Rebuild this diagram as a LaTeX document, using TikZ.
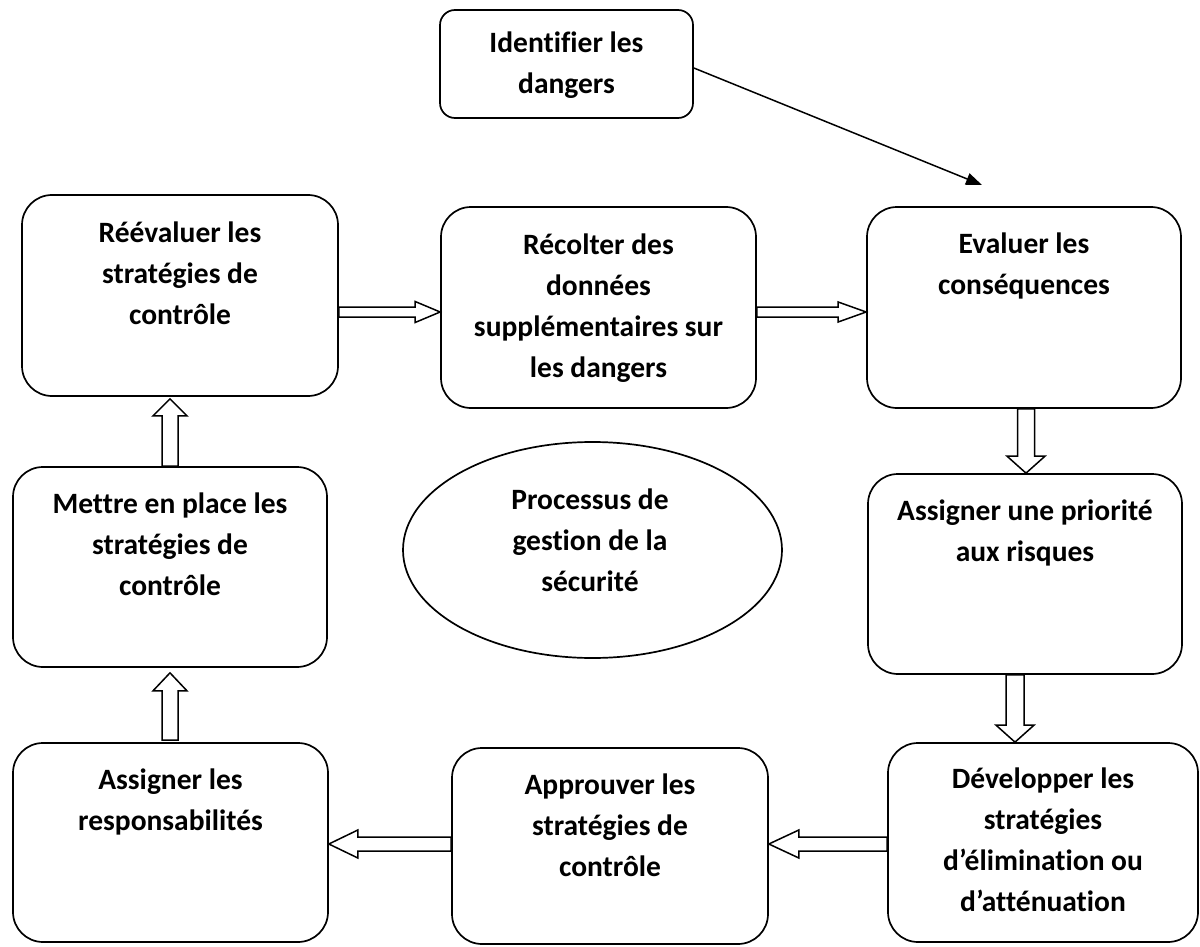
\documentclass[tikz,border=0pt]{standalone}
\usepackage{fontspec}
\setmainfont{Carlito}[Ligatures=NoCommon]
\usetikzlibrary{calc,shapes.geometric,arrows.meta}

% strut that fixes the height of the first text line
\newcommand\firstline{\rule{0pt}{24pt}}

% hollow block arrow: #1 tail, #2 tip, #3 half shaft width, #4 half head width, #5 head length
\newcommand\hollowarrow[5]{%
  \path ($(#2)!#5pt!(#1)$) coordinate (hb);
  \draw[hollow] ($(#1)!#3pt!90:(#2)$) -- ($(hb)!#3pt!-90:(#1)$) -- ($(hb)!#4pt!-90:(#1)$)
    -- (#2) -- ($(hb)!#4pt!90:(#1)$) -- ($(hb)!#3pt!90:(#1)$) -- ($(#1)!#3pt!-90:(#2)$) -- cycle;
}

\begin{document}
\begin{tikzpicture}[x=1pt,y=-1pt,
  box/.style={draw, line width=1.7pt, rounded corners=30pt, inner sep=0pt},
  lbl/.style={anchor=north, inner sep=0pt, align=center,
    font=\fontsize{29.5}{41}\selectfont\bfseries},
  hollow/.style={draw, line width=1.5pt, line join=miter, fill=white},
  thin/.style={line width=1.5pt, -{Triangle[length=16pt,width=12pt]}}]

\useasboundingbox (0,0) rectangle (1200,947);

% process boxes
\node[box, rounded corners=15pt, minimum width=253pt, minimum height=108pt] (ident) at (566.5,64) {};
\node[box, minimum width=316pt, minimum height=201pt] (reeval) at (180,295.5) {};
\node[box, minimum width=315pt, minimum height=201pt] (recolt) at (598.5,307.5) {};
\node[box, minimum width=314pt, minimum height=201pt] (evalu) at (1024,307.5) {};
\node[box, minimum width=314pt, minimum height=200pt] (prio) at (1025,574) {};
\node[box, minimum width=314pt, minimum height=200pt] (mettre) at (170,567) {};
\node[box, minimum width=315pt, minimum height=199pt] (resp) at (170.5,842.5) {};
\node[box, minimum width=316pt, minimum height=196pt] (approuv) at (610,846) {};
\node[box, minimum width=310pt, minimum height=199pt] (develop) at (1043,842.5) {};

% central ellipse
\node[draw, ellipse, line width=1.7pt, minimum width=379pt, minimum height=216pt, inner sep=0pt] (proc) at (592.5,550) {};

% labels
\node[lbl] (ident-t) at ($(ident.north)+(0,19)$) {\firstline Identifier les\\dangers};
\node[lbl] (reeval-t) at ($(reeval.north)+(0,24)$) {\firstline Réévaluer les\\stratégies de\\contrôle};
\node[lbl] (recolt-t) at ($(recolt.north)+(0,24)$) {\firstline Récolter des\\données\\supplémentaires sur\\les dangers};
\node[lbl] (evalu-t) at ($(evalu.north)+(0,23)$) {\firstline Evaluer les\\conséquences};
\node[lbl] (prio-t) at ($(prio.north)+(0,23)$) {\firstline Assigner une priorité\\aux risques};
\node[lbl] (mettre-t) at ($(mettre.north)+(0,23)$) {\firstline Mettre en place les\\stratégies de\\contrôle};
\node[lbl] (resp-t) at ($(resp.north)+(0,23)$) {\firstline Assigner les\\responsabilités};
\node[lbl] (approuv-t) at ($(approuv.north)+(0,23)$) {\firstline Approuver les\\stratégies de\\contrôle};
\node[lbl] (develop-t) at ($(develop.north)+(0,22)$) {\firstline Développer les\\stratégies\\d’élimination ou\\d’atténuation};
\node[lbl] (proc-t) at ($(proc.north)+(-2.5,44)$) {\firstline Processus de\\gestion de la\\sécurité};

% thin arrow from the first step
\coordinate (identarrow) at (982,185);
\draw[thin] ($(ident.east)+(0,4)$) -- (identarrow);

% block arrows between the steps
\path (reeval.east |- 0,312) coordinate (a1s) (recolt.west |- 0,312) coordinate (a1e);
\hollowarrow{a1s}{a1e}{5}{10.5}{25}
\path (recolt.east |- 0,312) coordinate (a2s) (evalu.west |- 0,312) coordinate (a2e);
\hollowarrow{a2s}{a2e}{5}{10}{28}
\path (evalu.south -| 1026,0) coordinate (a3s) (prio.north -| 1026,0) coordinate (a3e);
\hollowarrow{a3s}{a3e}{8.5}{19}{17}
\path (prio.south -| 1015,0) coordinate (a4s) (develop.north -| 1015,0) coordinate (a4e);
\hollowarrow{a4s}{a4e}{9}{19}{17}
\path (develop.west |- 0,844) coordinate (a5s) (approuv.east |- 0,844) coordinate (a5e);
\hollowarrow{a5s}{a5e}{7}{14}{30}
\path (approuv.west |- 0,844) coordinate (a6s) (resp.east |- 0,844) coordinate (a6e);
\hollowarrow{a6s}{a6e}{7}{14}{29}
\path (resp.north -| 170,0) ++(0,-2) coordinate (a7s) (mettre.south -| 170,0) ++(0,5) coordinate (a7e);
\hollowarrow{a7s}{a7e}{8}{17}{18}
\path (mettre.north -| 170,0) coordinate (a8s) (reeval.south -| 170,0) ++(0,2) coordinate (a8e);
\hollowarrow{a8s}{a8e}{8}{17}{17}

\end{tikzpicture}
\end{document}
